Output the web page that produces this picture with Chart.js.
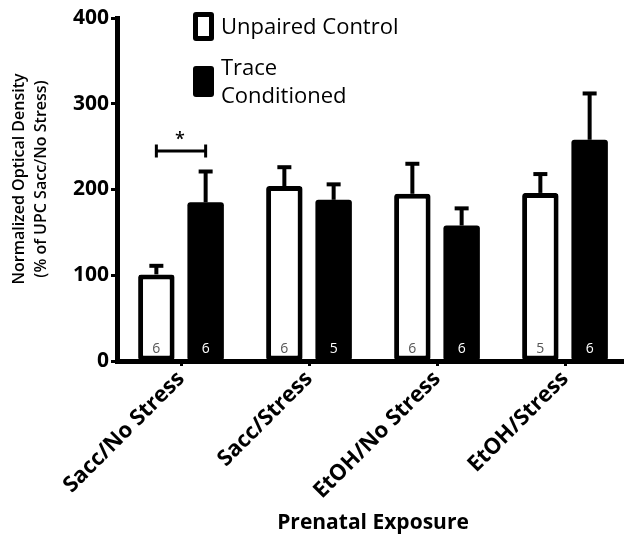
<!DOCTYPE html>
<html>
<head>
<meta charset="utf-8">
<script src="https://cdn.jsdelivr.net/npm/chart.js@4"></script>
<style>
  html, body { margin: 0; padding: 0; background: #fff; overflow: hidden; }
  #wrap { width: 632px; height: 540px; }
</style>
</head>
<body>
<div id="wrap"><canvas id="c" width="632" height="540"></canvas></div>
<script>
// ---- data ----
const categories = ['Sacc/No Stress', 'Sacc/Stress', 'EtOH/No Stress', 'EtOH/Stress'];
const unpairedMean = [101, 204, 195, 196];
const unpairedSEM  = [10, 22, 35, 22];
const traceMean    = [185, 188, 158, 258];
const traceSEM     = [36, 18, 20, 54];
const unpairedN    = [6, 6, 6, 5];
const traceN       = [6, 5, 6, 6];
const seriesNames  = ['Unpaired Control', ['Trace', 'Conditioned']];
const yTitleLines  = ['Normalized Optical Density', '(% of UPC Sacc/No Stress)'];
const yTickValues  = [0, 100, 200, 300, 400];
const sigBracket   = { category: 0, value: 245, label: '*' };

const FONT = "'Open Sans', 'DejaVu Sans', sans-serif";

const errorBars = {
  id: 'errorBars',
  afterDatasetsDraw(chart) {
    const ctx = chart.ctx;
    const y = chart.scales.y;
    const sems = [unpairedSEM, traceSEM];
    const means = [unpairedMean, traceMean];
    ctx.save();
    ctx.strokeStyle = '#000';
    ctx.lineWidth = 4;
    ctx.lineCap = 'butt';
    chart.data.datasets.forEach((ds, di) => {
      chart.getDatasetMeta(di).data.forEach((bar, i) => {
        const top = y.getPixelForValue(means[di][i] + sems[di][i]);
        ctx.beginPath();
        ctx.moveTo(bar.x, bar.y);
        ctx.lineTo(bar.x, top);
        ctx.stroke();
        ctx.beginPath();
        ctx.moveTo(bar.x - 7, top);
        ctx.lineTo(bar.x + 7, top);
        ctx.stroke();
      });
    });
    // N labels
    const ns = [unpairedN, traceN];
    const cols = ['#555', '#fff'];
    ctx.font = '14px ' + FONT;
    ctx.textAlign = 'center';
    ctx.textBaseline = 'middle';
    chart.data.datasets.forEach((ds, di) => {
      chart.getDatasetMeta(di).data.forEach((bar, i) => {
        ctx.fillStyle = cols[di];
        ctx.fillText(String(ns[di][i]), bar.x, y.getPixelForValue(0) - 12);
      });
    });
    // significance bracket
    const b0 = chart.getDatasetMeta(0).data[sigBracket.category];
    const b1 = chart.getDatasetMeta(1).data[sigBracket.category];
    const by = y.getPixelForValue(sigBracket.value);
    ctx.lineWidth = 3;
    ctx.beginPath();
    ctx.moveTo(b0.x, by); ctx.lineTo(b1.x, by);
    ctx.moveTo(b0.x, by - 6.5); ctx.lineTo(b0.x, by + 6.5);
    ctx.moveTo(b1.x, by - 6.5); ctx.lineTo(b1.x, by + 6.5);
    ctx.stroke();
    ctx.fillStyle = '#000';
    ctx.font = '600 18px ' + FONT;
    ctx.textBaseline = 'alphabetic';
    ctx.fillText(sigBracket.label, (b0.x + b1.x) / 2 - 1, by - 6);
    ctx.restore();
  }
};

function roundRect(ctx, x, y, w, h, r) {
  ctx.beginPath();
  ctx.moveTo(x + r, y);
  ctx.lineTo(x + w - r, y);
  ctx.quadraticCurveTo(x + w, y, x + w, y + r);
  ctx.lineTo(x + w, y + h - r);
  ctx.quadraticCurveTo(x + w, y + h, x + w - r, y + h);
  ctx.lineTo(x + r, y + h);
  ctx.quadraticCurveTo(x, y + h, x, y + h - r);
  ctx.lineTo(x, y + r);
  ctx.quadraticCurveTo(x, y, x + r, y);
  ctx.closePath();
}

const customLegend = {
  id: 'customLegend',
  afterDraw(chart) {
    const ctx = chart.ctx;
    ctx.save();
    // white box
    ctx.fillStyle = '#000';
    roundRect(ctx, 193, 12, 21, 29, 3); ctx.fill();
    ctx.fillStyle = '#fff';
    ctx.fillRect(198, 17, 11, 19);
    // black box
    ctx.fillStyle = '#000';
    roundRect(ctx, 193, 66, 21, 31, 3); ctx.fill();
    ctx.font = '22px ' + FONT;
    ctx.textAlign = 'left';
    ctx.textBaseline = 'alphabetic';
    ctx.fillText(seriesNames[0], 221, 34);
    ctx.fillText(seriesNames[1][0], 221, 75);
    ctx.fillText(seriesNames[1][1], 221, 103);
    // y-axis title (two lines, rotated)
    ctx.translate(0, 179);
    ctx.rotate(-Math.PI / 2);
    ctx.font = '600 16px ' + FONT;
    ctx.textAlign = 'center';
    ctx.textBaseline = 'middle';
    ctx.fillText(yTitleLines[0], 0, 19);
    ctx.fillText(yTitleLines[1], 0, 41);
    ctx.restore();
  }
};

new Chart(document.getElementById('c'), {
  type: 'bar',
  data: {
    labels: categories,
    datasets: [
      { label: 'Unpaired Control', data: unpairedMean, backgroundColor: '#fff', borderColor: '#000',
        borderWidth: 5, borderSkipped: false, borderRadius: 3,
        categoryPercentage: 0.77, barPercentage: 0.74 },
      { label: 'Trace Conditioned', data: traceMean, backgroundColor: '#000', borderColor: '#000',
        borderWidth: 0, borderSkipped: false, borderRadius: 3,
        categoryPercentage: 0.77, barPercentage: 0.74 }
    ]
  },
  options: {
    responsive: false,
    animation: false,
    devicePixelRatio: 1,
    layout: { padding: { left: 0, right: 3, top: 18, bottom: 0 } },
    plugins: { legend: { display: false }, tooltip: { enabled: false } },
    scales: {
      x: {
        type: 'category',
        offset: true,
        afterFit(s) { s.height = 179; },
        grid: { display: true, drawOnChartArea: false, offset: false, tickLength: 5, tickWidth: 3, tickColor: '#000' },
        border: { display: true, color: '#000', width: 5 },
        ticks: { color: '#000', font: { family: FONT, size: 22, weight: 'bold' }, minRotation: 45, maxRotation: 45, padding: 0, autoSkip: false },
        title: { display: true, text: 'Prenatal Exposure', color: '#000', font: { family: FONT, size: 21, weight: 'bold', lineHeight: 1.2 }, padding: { top: 0, bottom: 4 } }
      },
      y: {
        min: 0, max: 400,
        afterFit(s) { s.width = 117; },
        afterBuildTicks(s) { s.ticks = yTickValues.map(v => ({ value: v })); },
        grid: { display: true, drawOnChartArea: false, tickLength: 6, tickWidth: 3, tickColor: '#000' },
        border: { display: true, color: '#000', width: 5 },
        ticks: { color: '#000', font: { family: FONT, size: 21, weight: 'bold' }, padding: 2 },
        title: { display: false }
      }
    }
  },
  plugins: [errorBars, customLegend]
});
</script>
</body>
</html>
